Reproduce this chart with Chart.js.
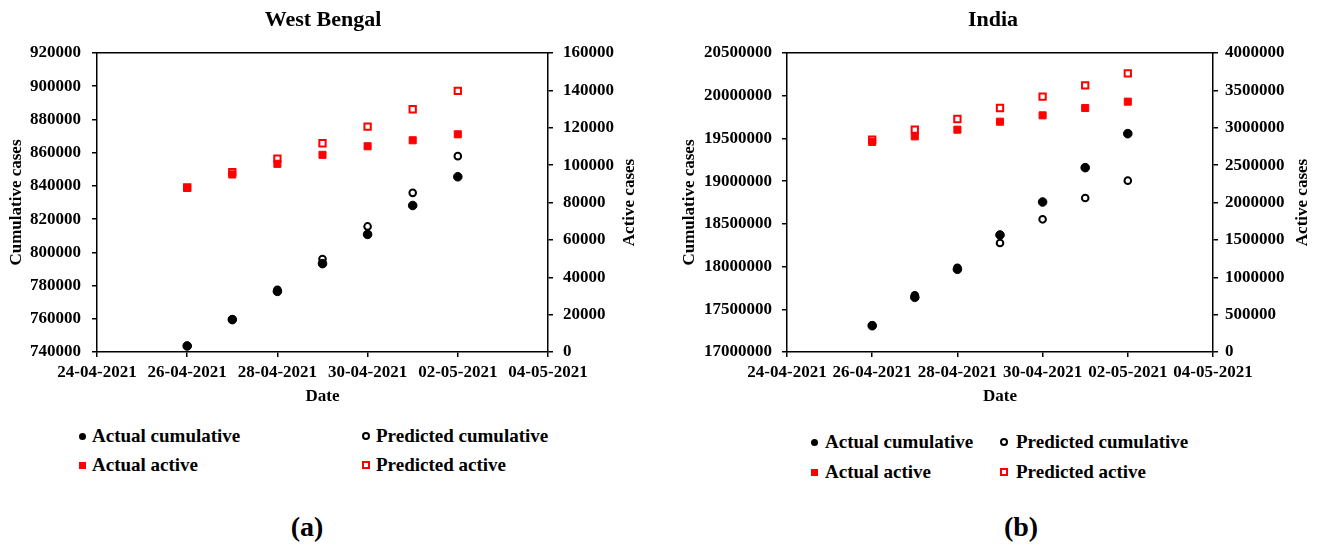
<!DOCTYPE html>
<html>
<head>
<meta charset="utf-8">
<script src="https://cdn.jsdelivr.net/npm/chart.js@4.4.1/dist/chart.umd.min.js"></script>
<style>
  body { margin: 0; width: 1317px; height: 545px; overflow: hidden; background: #fff; position: relative;
         font-family: "Liberation Serif", "Times New Roman", serif; font-weight: bold; color: #000; }
  canvas { position: absolute; top: 0; }
  .lg { position: absolute; font-size: 19px; line-height: 24px; white-space: nowrap; }
  .mk { position: absolute; box-sizing: border-box; }
  .tag { position: absolute; font-size: 28px; transform: translate(-50%, -50%); }
</style>
</head>
<body>
<canvas id="wb" width="646" height="410" style="left:0"></canvas>
<canvas id="india" width="646" height="410" style="left:670px"></canvas>
<div class="tag" style="left:307px;top:527px">(a)</div>
<div class="tag" style="left:1021px;top:527px">(b)</div>
<script>
const dates = ["26-04-2021", "27-04-2021", "28-04-2021", "29-04-2021", "30-04-2021", "01-05-2021", "02-05-2021"];
const xTickLabels = ["24-04-2021", "26-04-2021", "28-04-2021", "30-04-2021", "02-05-2021", "04-05-2021"];
const seriesNames = ["Actual cumulative", "Predicted cumulative", "Actual active", "Predicted active"];

// West Bengal
const wbActualCumulative = [743600, 759500, 776500, 793200, 810800, 828200, 845500];
const wbPredictedCumulative = [743800, 759700, 777500, 796000, 815600, 835800, 857900];
const wbActualActive = [87800, 95000, 100700, 105500, 110100, 113300, 116500];
const wbPredictedActive = [88100, 96200, 103500, 111700, 120600, 129900, 139700];

// India
const inActualCumulative = [17308000, 17640000, 17968000, 18370000, 18756000, 19158000, 19556000];
const inPredictedCumulative = [17312000, 17663000, 17987000, 18276000, 18553000, 18803000, 19006000];
const inActualActive = [2810000, 2885000, 2974000, 3081000, 3166000, 3264000, 3349000];
const inPredictedActive = [2841000, 2974000, 3117000, 3264000, 3416000, 3568000, 3728000];

const FAMILY = '"Liberation Serif", "Times New Roman", serif';
const font = (size) => ({ family: FAMILY, size: size, weight: "bold" });

function dayOf(d) {
  const [dd, mm, yy] = d.split("-").map(Number);
  return (Date.UTC(yy, mm - 1, dd) - Date.UTC(2021, 3, 24)) / 86400000;
}

function points(values) {
  return dates.map((d, i) => ({ x: dayOf(d), y: values[i] }));
}

const styles = [
  { pointStyle: "circle", pointRadius: 4.3, backgroundColor: "#000", borderColor: "#000", borderWidth: 1, order: 0, yAxisID: "y" },
  { pointStyle: "circle", pointRadius: 3.3, backgroundColor: "#fff", borderColor: "#000", borderWidth: 2, order: 1, yAxisID: "y" },
  { pointStyle: "rect", pointRadius: 5, backgroundColor: "#f00", borderColor: "#f00", borderWidth: 1, order: 0, yAxisID: "y1" },
  { pointStyle: "rect", pointRadius: 4.45, backgroundColor: "#fff", borderColor: "#f00", borderWidth: 2, order: 1, yAxisID: "y1" }
];

const legendMarkers = [
  "width:7px;height:7px;border-radius:50%;background:#000;",
  "width:8px;height:8px;border-radius:50%;border:2px solid #000;background:#fff;",
  "width:7px;height:7px;background:#f00;",
  "width:8px;height:8px;border:2px solid #f00;background:#fff;"
];

const tickMarks = { display: true, drawOnChartArea: false, drawTicks: true, tickLength: 5, color: "#000", lineWidth: 1.5 };
const axisLine = { display: true, color: "#000", width: 1.5 };

const rightTitle = {
  id: "rightTitle",
  afterDraw(chart, args, opts) {
    const s = chart.scales.y1;
    const ctx = chart.ctx;
    ctx.save();
    ctx.translate(s.right - opts.offset, (s.top + s.bottom) / 2);
    ctx.rotate(-Math.PI / 2);
    ctx.font = "bold 17px " + FAMILY;
    ctx.fillStyle = "#000";
    ctx.textAlign = "center";
    ctx.textBaseline = "middle";
    ctx.fillText(opts.text, 0, 0);
    ctx.restore();
  }
};

function makeChart(id, c) {
  const series = [c.actualCum, c.predCum, c.actualAct, c.predAct];
  const datasets = series.map((v, i) => Object.assign({ label: seriesNames[i], data: points(v) }, styles[i]));

  new Chart(document.getElementById(id), {
    type: "scatter",
    data: { datasets },
    plugins: [rightTitle],
    options: {
      responsive: false,
      animation: false,
      layout: { padding: 0 },
      plugins: {
        legend: { display: false },
        tooltip: { enabled: false },
        title: { display: true, text: c.title, color: "#000", font: font(22), padding: { top: 7, bottom: 19.6 } },
        rightTitle: { text: "Active cases", offset: c.rightTitleOffset }
      },
      scales: {
        x: {
          type: "linear", position: "bottom", min: 0, max: 10,
          ticks: { stepSize: 2, color: "#000", font: font(17), padding: 5, maxRotation: 0,
                   callback: (v, i) => xTickLabels[i] },
          grid: tickMarks, border: axisLine,
          title: { display: true, text: "Date", color: "#000", font: font(17), padding: { top: 0, bottom: 3 } },
          afterFit: (s) => { s.height = 58; }
        },
        xTop: {
          type: "linear", position: "top", min: 0, max: 10,
          ticks: { display: false }, grid: { display: false }, border: axisLine,
          afterFit: (s) => { s.height = 0; }
        },
        y: {
          type: "linear", position: "left", min: c.yMin, max: c.yMax,
          ticks: { stepSize: c.yStep, color: "#000", font: font(17), padding: c.leftTickPad, callback: (v) => String(v) },
          grid: tickMarks, border: axisLine,
          title: { display: true, text: "Cumulative cases", color: "#000", font: font(17), padding: { top: c.leftTitlePad, bottom: 0 } },
          afterFit: (s) => { s.width = c.leftWidth; }
        },
        y1: {
          type: "linear", position: "right", min: c.y1Min, max: c.y1Max,
          ticks: { stepSize: c.y1Step, color: "#000", font: font(17), padding: c.rightTickPad, callback: (v) => String(v) },
          grid: tickMarks, border: axisLine,
          afterFit: (s) => { s.width = c.rightWidth; }
        }
      }
    }
  });

  // legend in two columns under the plot
  seriesNames.forEach((name, i) => {
    const col = i % 2, row = Math.floor(i / 2);
    const mx = c.legend.markerX[col], ty = c.legend.rowY[row];
    const mk = document.createElement("div");
    mk.className = "mk";
    mk.style.cssText = legendMarkers[i];
    const size = parseFloat(legendMarkers[i].match(/width:(\d+)/)[1]);
    mk.style.left = (mx - size / 2) + "px";
    mk.style.top = (ty - size / 2) + "px";
    document.body.appendChild(mk);
    const tx = document.createElement("div");
    tx.className = "lg";
    tx.textContent = name;
    tx.style.left = c.legend.textX[col] + "px";
    tx.style.top = (ty - 12) + "px";
    document.body.appendChild(tx);
  });
}

makeChart("wb", {
  title: "West Bengal",
  actualCum: wbActualCumulative, predCum: wbPredictedCumulative,
  actualAct: wbActualActive, predAct: wbPredictedActive,
  yMin: 740000, yMax: 920000, yStep: 20000,
  y1Min: 0, y1Max: 160000, y1Step: 20000,
  leftWidth: 97, rightWidth: 98, leftTickPad: 11, rightTickPad: 10, leftTitlePad: 6, rightTitleOffset: 16,
  legend: { markerX: [82, 366], textX: [92, 376], rowY: [436, 465] }
});

makeChart("india", {
  title: "India",
  actualCum: inActualCumulative, predCum: inPredictedCumulative,
  actualAct: inActualActive, predAct: inPredictedActive,
  yMin: 17000000, yMax: 20500000, yStep: 500000,
  y1Min: 0, y1Max: 4000000, y1Step: 500000,
  leftWidth: 117, rightWidth: 103, leftTickPad: 10, rightTickPad: 7, leftTitlePad: 9, rightTitleOffset: 13,
  legend: { markerX: [814, 1004], textX: [825, 1016], rowY: [442, 472] }
});
</script>
</body>
</html>
